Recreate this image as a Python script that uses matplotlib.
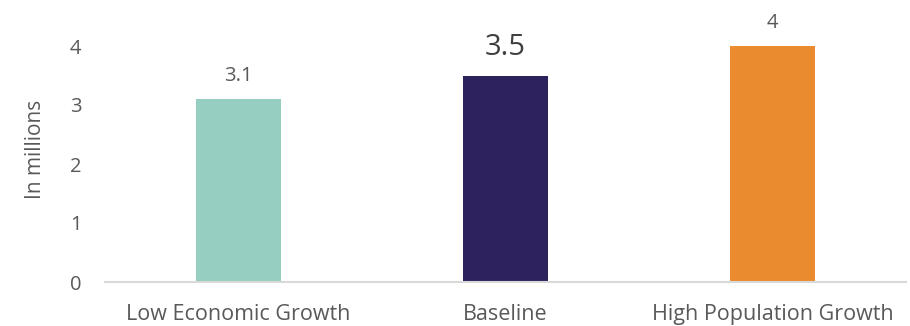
import matplotlib
matplotlib.use("Agg")
import matplotlib.pyplot as plt

categories = ["Low Economic Growth", "Baseline", "High Population Growth"]
values = [3.1, 3.5, 4.0]
value_labels = ["3.1", "3.5", "4"]
colors = ["#96cec1", "#2d225d", "#e98b2e"]
yticks = [0, 1, 2, 3, 4]

plt.rcParams['font.family'] = ['Open Sans', 'DejaVu Sans']

W, H = 910, 326
fig = plt.figure(figsize=(W / 100, H / 100), dpi=100)
left, right, bottom, top = 105, 906, 282, 16.5
ax = fig.add_axes([left / W, 1 - bottom / H, (right - left) / W, (bottom - top) / H])

x = list(range(len(categories)))
ax.bar(x, values, width=0.315, color=colors, zorder=2)
ax.set_xlim(-0.5, 2.5)
ax.set_ylim(0, 4.5)
ax.set_yticks(yticks)
ax.set_yticklabels([str(t) for t in yticks])
ax.set_xticks(x)
ax.set_xticklabels(categories)

for s in ["top", "right", "left"]:
    ax.spines[s].set_visible(False)
ax.spines["bottom"].set_color("#d9d9d9")
ax.spines["bottom"].set_linewidth(1.5)
ax.tick_params(axis="both", length=0, colors="#595959")
ax.tick_params(axis="y", pad=17, labelsize=14.5)
ax.tick_params(axis="x", pad=16, labelsize=15.5)

ax.set_ylabel("In millions", fontsize=15, color="#595959", labelpad=17)

for i, (v, lab) in enumerate(zip(values, value_labels)):
    if lab == "3.5":
        ax.annotate(lab, (i, v), xytext=(0, 15), textcoords="offset points",
                    ha="center", va="baseline", fontsize=21, color="#404040")
    else:
        ax.annotate(lab, (i, v), xytext=(0, 13), textcoords="offset points",
                    ha="center", va="baseline", fontsize=14.5, color="#595959")

fig.savefig("out.png", dpi=100)
